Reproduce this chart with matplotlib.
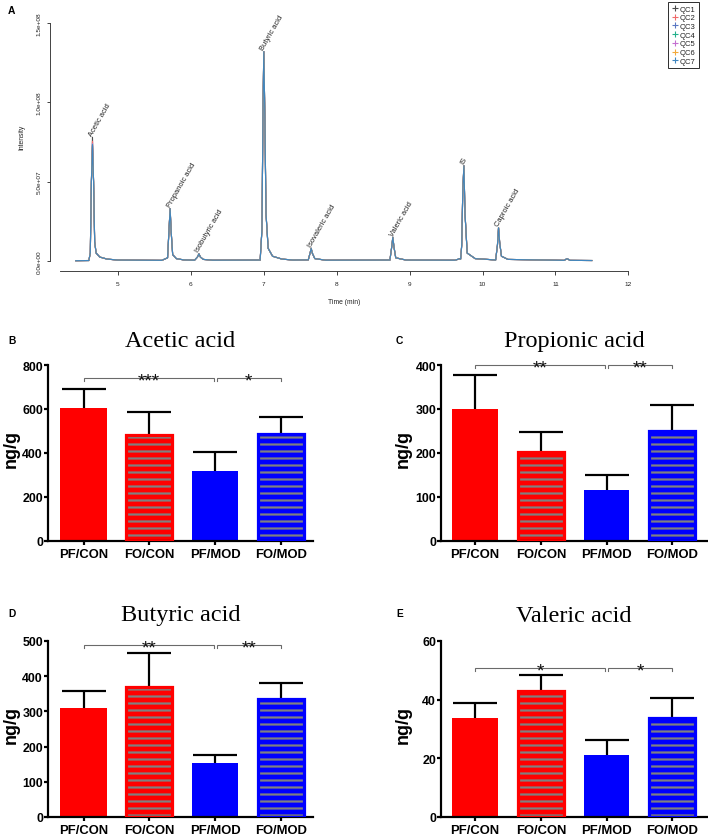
import numpy as np
import matplotlib
matplotlib.use('Agg')
import matplotlib.pyplot as plt
from matplotlib.lines import Line2D

DPI = 84
W, H = 708, 839
PT = 72.0 / DPI  # points per pixel

# ---------------- Panel A data (intensity in units of 1e6) ----------------
qc_names = ['QC1', 'QC2', 'QC3', 'QC4', 'QC5', 'QC6', 'QC7']
qc_colors = ['#4a4a4a', '#f06a6a', '#5a76c2', '#22b08a', '#c46fd0', '#f2a93b', '#3f86c0']

trace_time = [4.42, 4.60, 4.62, 4.635, 4.65, 4.665, 4.68, 4.70, 4.75, 4.85, 5.00,
              5.60, 5.68, 5.70, 5.715, 5.73, 5.75, 5.80, 5.90,
              6.05, 6.09, 6.11, 6.13, 6.17, 6.30,
              6.95, 6.975, 6.99, 7.00, 7.015, 7.03, 7.06, 7.12, 7.25, 7.40,
              7.61, 7.635, 7.65, 7.665, 7.70, 7.85,
              8.73, 8.755, 8.77, 8.785, 8.81, 8.95,
              9.62, 9.66, 9.68, 9.70, 9.715, 9.73, 9.745, 9.76, 9.79, 9.90, 10.10,
              10.18, 10.205, 10.22, 10.235, 10.26, 10.35,
              11.12, 11.16, 11.20, 11.50]
trace_intensity = [0.2, 0.3, 5, 50, 78, 50, 12, 5, 2.5, 1.2, 0.6,
                   0.4, 2, 20, 33, 18, 4, 1.5, 0.7,
                   0.5, 2.5, 4.5, 2.5, 1.0, 0.5,
                   0.6, 20, 100, 132, 90, 30, 8, 3, 1.2, 0.6,
                   0.7, 5, 8, 5, 1.5, 0.5,
                   0.6, 9, 15, 9, 2, 0.6,
                   0.5, 1.0, 1.5, 1.2, 10, 45, 60, 30, 5, 1.5, 0.9,
                   0.6, 10, 21, 12, 3, 1.0,
                   0.4, 1.5, 0.4, 0.3]
acetic_apex = [78, 75.5, 73, 72.5, 74, 72.5, 73.5]

peak_names = ['Acetic acid', 'Propanoic acid', 'Isobutyric acid', 'Butyric acid',
              'Isovaleric acid', 'Valeric acid', 'IS', 'Caproic acid']
peak_time = [4.65, 5.715, 6.11, 7.00, 7.65, 8.77, 9.745, 10.22]
peak_height = [78, 33, 4.5, 132, 8, 15, 60, 21]

# ---------------- Bar panel data ----------------
groups = ['PF/CON', 'FO/CON', 'PF/MOD', 'FO/MOD']
acetic_mean = [604, 483, 318, 485]
acetic_err = [87, 103, 86, 80]
propionic_mean = [301, 203, 116, 251]
propionic_err = [76, 45, 34, 58]
butyric_mean = [309, 368, 153, 334]
butyric_err = [48, 99, 23, 48]
valeric_mean = [33.6, 43.1, 21.2, 33.8]
valeric_err = [5.2, 5.3, 4.9, 6.9]
acetic_sig = ['***', '*']
propionic_sig = ['**', '**']
butyric_sig = ['**', '**']
valeric_sig = ['*', '*']

SANS = 'Liberation Sans'
SERIF = 'Liberation Serif'

fig = plt.figure(figsize=(W / DPI, H / DPI), dpi=DPI)
fig.patch.set_facecolor('white')


def axes_px(l, t, r, b):
    return fig.add_axes([l / W, 1 - b / H, (r - l) / W, (b - t) / H])


def ftext(x, y, s, **kw):
    return fig.text(x / W, 1 - y / H, s, **kw)


# ================= Panel A =================
axA = axes_px(50, 20, 632, 272)
px_per_min = 72.9
axA.set_xlim(5 + (50 - 118) / px_per_min, 5 + (632 - 118) / px_per_min)
axA.set_ylim((262 - 272) / 238 * 1.5e8, (262 - 20) / 238 * 1.5e8)
t_arr = np.array(trace_time)
for i, (name, col) in enumerate(zip(qc_names, qc_colors)):
    y = np.array(trace_intensity, dtype=float)
    y[trace_time.index(4.65)] = acetic_apex[i]
    axA.plot(t_arr, y * 1e6, color=col, lw=1.1 * PT, solid_joinstyle='round')

for nm, pt_, ph in zip(peak_names, peak_time, peak_height):
    axA.annotate(nm, xy=(pt_, ph * 1e6), xytext=(1.5 * PT, 0.5 * PT), textcoords='offset points',
                 rotation=60, rotation_mode='anchor', ha='left', va='bottom',
                 fontsize=7.5 * PT, family=SANS, color='#222222')

for s in ['top', 'right']:
    axA.spines[s].set_visible(False)
axA.spines['left'].set_bounds(0, 1.5e8)
axA.spines['bottom'].set_bounds(4.2, 12)
for s in ['left', 'bottom']:
    axA.spines[s].set_linewidth(0.9 * PT)
    axA.spines[s].set_color('#333333')
axA.set_xticks([5, 6, 7, 8, 9, 10, 11, 12])
axA.set_xticklabels(['5', '6', '7', '8', '9', '10', '11', '12'], family=SANS, fontsize=6.5 * PT)
axA.set_yticks([0, 5e7, 1e8, 1.5e8])
axA.set_yticklabels(['0.0e+00', '5.0e+07', '1.0e+08', '1.5e+08'], family=SANS,
                    fontsize=6.5 * PT, rotation=90, va='center')
axA.tick_params(axis='both', length=3.5 * PT, width=0.9 * PT, color='#333333', labelcolor='#222222')
axA.tick_params(axis='x', pad=7 * PT)
axA.tick_params(axis='y', pad=4.5 * PT)
axA.patch.set_alpha(0)
ftext(344, 303, 'Time (min)', ha='center', va='center', family=SANS, fontsize=6.8 * PT, color='#222222')
ftext(22, 137, 'Intensity', ha='center', va='center', rotation=90, family=SANS, fontsize=6.8 * PT,
      color='#222222')

handles = [Line2D([], [], ls='none', marker='+', color=c, markeredgecolor=c,
                  markersize=6 * PT, markeredgewidth=1.1 * PT)
           for c in qc_colors]
leg = fig.legend(handles, qc_names, loc='upper right', bbox_to_anchor=(699 / W, 1 - 3 / H),
                 borderaxespad=0, frameon=True, fancybox=False, framealpha=1,
                 edgecolor='#333333', prop={'family': SANS, 'size': 7.6 * PT},
                 handlelength=0.7, handletextpad=0.35, borderpad=0.45, labelspacing=0.18)
leg.get_frame().set_linewidth(1.0 * PT)
for txt in leg.get_texts():
    txt.set_color('#222222')

ftext(8, 14, 'A', ha='left', va='baseline', family=SANS, fontweight='bold', fontsize=10.2 * PT)

# ================= Bar panels =================
RED = '#ff0000'
BLUE = '#0000ff'
STRIPE = '#808080'
plt.rcParams['hatch.linewidth'] = 2.2 * PT


def bar_panel(box, xlim, letter, letter_pos, title, title_base, means, errs, ymax, ystep,
              sig_y, sig_labels, label_pos):
    l, t, r, b = box
    ax = axes_px(l, t, r, b)
    ax.set_xlim(*xlim)
    ax.set_ylim(0, ymax)
    x = np.arange(len(groups))
    faces = [RED, RED, BLUE, BLUE]
    width = 0.70
    eb = ax.errorbar(x, means, yerr=[np.zeros(len(errs)), errs], fmt='none', ecolor='black',
                     elinewidth=2.2 * PT, capsize=22 * PT, capthick=2.2 * PT, zorder=1)
    eb[1][0].set_visible(False)
    for i in range(len(groups)):
        if i in (1, 3):
            ax.bar(x[i], means[i], width=width, color=faces[i], edgecolor=STRIPE, hatch='--',
                   linewidth=0, zorder=2)
            ax.bar(x[i], means[i], width=width, fill=False, edgecolor=faces[i], linewidth=3.2 * PT,
                   zorder=3)
        else:
            ax.bar(x[i], means[i], width=width, color=faces[i], linewidth=0, zorder=2)

    # significance brackets
    tk = 3.0 / (b - t) * ymax
    segs = [(0.0, 1.98), (2.03, 3.0)]
    for (x0, x1), lab in zip(segs, sig_labels):
        ax.plot([x0, x0, x1, x1], [sig_y - tk, sig_y, sig_y, sig_y - tk], color='#6a6a6a',
                lw=1.1 * PT, clip_on=False, zorder=4, solid_joinstyle='miter')
        ax.annotate(lab, xy=((x0 + x1) / 2, sig_y), xytext=(0, -7.5 * PT), textcoords='offset points',
                    ha='center', va='baseline', fontsize=19 * PT, family=SANS, color='#111111',
                    annotation_clip=False, zorder=5)

    for s in ['top', 'right']:
        ax.spines[s].set_visible(False)
    for s in ['left', 'bottom']:
        ax.spines[s].set_linewidth(2.2 * PT)
        ax.spines[s].set_color('black')
    yt = np.arange(0, ymax + ystep / 2, ystep)
    ax.set_yticks(yt)
    ax.set_yticklabels([f'{int(v)}' for v in yt], family=SANS, fontweight='bold', fontsize=12.4 * PT)
    ax.set_xticks(x)
    ax.set_xticklabels(groups, family=SANS, fontweight='bold', fontsize=13 * PT)
    ax.tick_params(axis='y', direction='out', length=4 * PT, width=2.2 * PT, pad=1 * PT)
    ax.tick_params(axis='x', direction='out', length=4 * PT, width=2.2 * PT, pad=3 * PT)
    ax.patch.set_alpha(0)

    ftext((l + r) / 2, title_base, title, ha='center', va='baseline', family=SERIF, fontsize=24.3 * PT)
    ftext(letter_pos[0], letter_pos[1], letter, ha='left', va='baseline', family=SANS,
          fontweight='bold', fontsize=10.2 * PT)
    ftext(label_pos[0], label_pos[1], 'ng/g', ha='center', va='center', rotation=90, family=SANS,
          fontweight='bold', fontsize=18 * PT)
    return ax


left_xlim = (-0.54, 3.49)
right_xlim = (-0.52, 3.53)

bar_panel((48, 366, 313, 542), left_xlim, 'B', (8, 344), 'Acetic acid', 347,
          acetic_mean, acetic_err, 800, 200, 740, acetic_sig, (11, 449))
bar_panel((441, 366, 707, 542), right_xlim, 'C', (396, 344), 'Propionic acid', 347,
          propionic_mean, propionic_err, 400, 100, 400, propionic_sig, (403, 449))
bar_panel((48, 642, 313, 818), left_xlim, 'D', (8, 617), 'Butyric acid', 621,
          butyric_mean, butyric_err, 500, 100, 488, butyric_sig, (11, 725))
bar_panel((441, 642, 707, 818), right_xlim, 'E', (396, 617), 'Valeric acid', 622,
          valeric_mean, valeric_err, 60, 20, 50.9, valeric_sig, (403, 725))

fig.savefig('out.png', dpi=DPI, facecolor='white')
